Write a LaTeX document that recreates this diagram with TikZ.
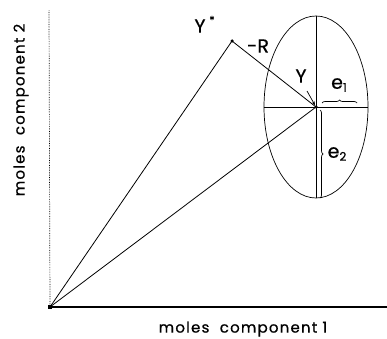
\documentclass[tikz,border=0pt]{standalone}
\usepackage{fontspec}
\setmainfont{Poppins}[FakeBold=0.6]
\newfontfamily\axfont[LetterSpace=8,FakeBold=0.6]{Poppins}
\usetikzlibrary{decorations.pathreplacing,arrows.meta,shapes.geometric}
\newcommand{\subl}[1]{\raisebox{-3pt}{\fontsize{12}{13}\selectfont #1}}
\tikzset{
  lbl/.style={inner sep=0pt, font=\fontsize{19}{21}\selectfont},
  axislbl/.style={inner sep=0pt, font=\axfont\fontsize{15}{17}\selectfont},
  conn/.style={line width=0.8pt},
  dot/.style={circle, fill=black, inner sep=0pt, minimum size=3.5pt},
  bracestyle/.style={decorate, decoration={brace, amplitude=3pt}, line width=0.7pt},
}
\begin{document}
\begin{tikzpicture}[x=1pt,y=1pt]
\useasboundingbox (0,0) rectangle (387,338);
% points
\node[draw=none, fill=black, inner sep=0pt, minimum size=4pt] (O) at (50,31) {};
\node[dot] (Ys) at (232,297) {};
\node[dot] (Y) at (316,231) {};
\coordinate (yaxtop) at (49,328);
\coordinate (xaxend) at (387,31);
% axes
\draw[line width=0.7pt, densely dotted] (O.center) -- (yaxtop);
\draw[line width=1.3pt] (O.center) -- (xaxend);
% ellipse and its axes
\node[draw, ellipse, minimum width=104pt, minimum height=182pt, inner sep=0pt, line width=0.7pt] (E) at (316,231) {};
\draw[line width=0.7pt] (E.north) -- (E.south);
\draw[line width=0.7pt] (E.west) -- (E.east);
% connectors
\draw[conn] (O.center) -- (Ys.center);
\draw[conn] (Ys.center) -- (Y.center);
\draw[conn] (O.center) -- (Y.center);
% labels
\node[lbl] (lYs) at (200,312) {Y};
\node[lbl, font=\fontsize{11}{12}\selectfont] (lstar) at (212,318) {*};
\node[lbl] (lR) at (258,292) {-R};
\node[lbl] (lY) at (301,262) {Y};
\coordinate (arst) at (307,247);
\draw[-{Stealth[length=4pt]}, line width=0.7pt] (arst) -- (Y);
\node[lbl] (le1) at (339,253) {e\subl{1}};
\node[lbl] (le2) at (337,184) {e\subl{2}};
\coordinate (b1a) at (322,235);
\coordinate (b1b) at (357,235);
\draw[bracestyle] (b1a) -- (b1b);
\coordinate (b2a) at (320,228);
\coordinate (b2b) at (320,140);
\draw[bracestyle] (b2a) -- (b2b);
% axis labels
\node[axislbl] (xl) at (243,9) {moles\ \ component 1};
\node[axislbl, rotate=90] (yl) at (21,228) {moles\ \ component 2};
\end{tikzpicture}
\end{document}
